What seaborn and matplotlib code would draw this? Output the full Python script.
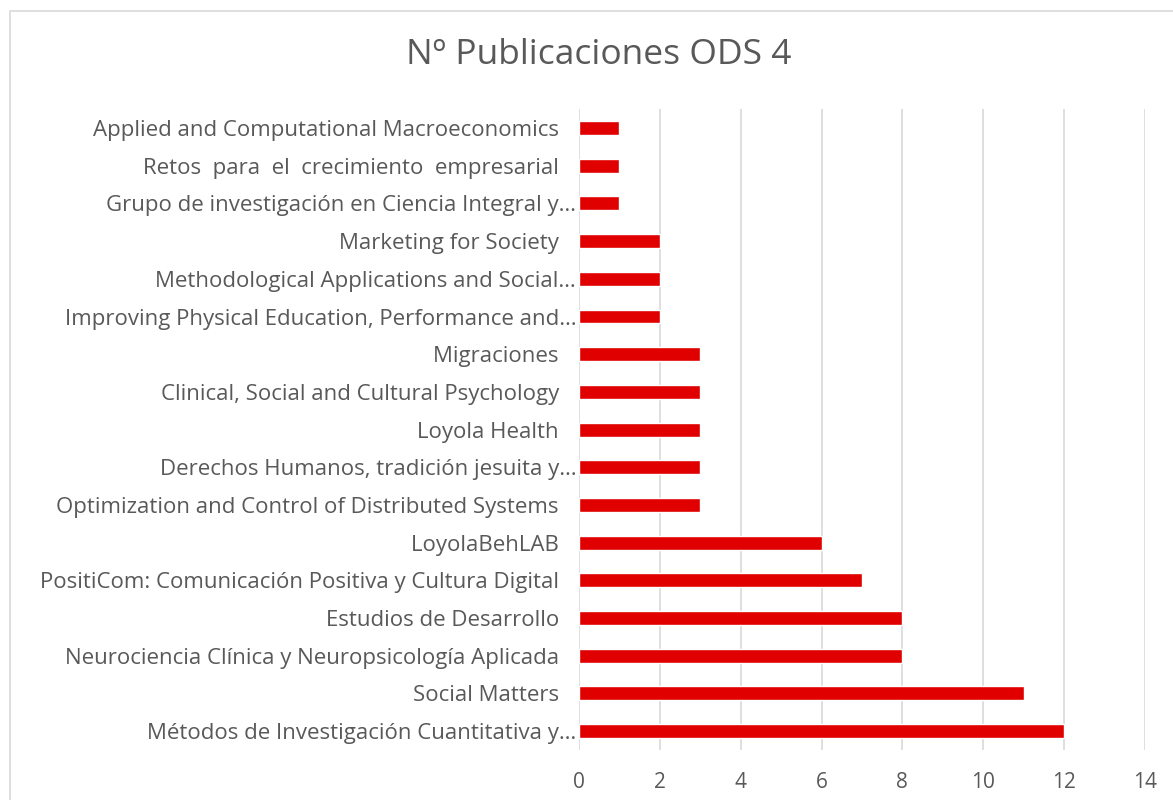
import seaborn as sns
import matplotlib.pyplot as plt
import matplotlib.patches as patches
import pandas as pd

grupos = [
    "Applied and Computational Macroeconomics",
    "Retos  para  el  crecimiento  empresarial",
    "Grupo de investigación en Ciencia Integral y…",
    "Marketing for Society",
    "Methodological Applications and Social…",
    "Improving Physical Education, Performance and…",
    "Migraciones",
    "Clinical, Social and Cultural Psychology",
    "Loyola Health",
    "Derechos Humanos, tradición jesuita y…",
    "Optimization and Control of Distributed Systems",
    "LoyolaBehLAB",
    "PositiCom: Comunicación Positiva y Cultura Digital",
    "Estudios de Desarrollo",
    "Neurociencia Clínica y Neuropsicología Aplicada",
    "Social Matters",
    "Métodos de Investigación Cuantitativa y…",
]
publicaciones = [1, 1, 1, 2, 2, 2, 3, 3, 3, 3, 3, 6, 7, 8, 8, 11, 12]
ticks_x = [0, 2, 4, 6, 8, 10, 12, 14]

# labels not cut off end a bit before the truncated ones (trailing space)
etiquetas = [g if g.endswith("…") else g + "   " for g in grupos]
df = pd.DataFrame({"grupo": etiquetas, "n": publicaciones})

sns.set_style("white")
plt.rcParams["font.family"] = ["Open Sans", "DejaVu Sans"]
gris = "#595959"

fig = plt.figure(figsize=(11.73, 8), dpi=100)
ax = fig.add_axes([0.4936, 0.0625, 0.4825, 0.801])

sns.barplot(data=df, x="n", y="grupo", color="#E00000", width=0.37,
            saturation=1, ax=ax, zorder=3)

ax.set_xlim(0, 14)
ax.set_ylim(16.5, -0.5)
ax.set_xticks(ticks_x)
ax.grid(axis="x", color="#D9D9D9", linewidth=1.2, zorder=0)
for s in ax.spines.values():
    s.set_visible(False)
ax.set_xlabel("")
ax.set_ylabel("")
ax.tick_params(axis="y", length=0, pad=2, labelsize=16, labelcolor=gris)
ax.tick_params(axis="x", length=0, pad=16, labelsize=15, labelcolor=gris)

fig.text(0.51, 0.931, "Nº Publicaciones ODS 4", ha="center", va="center",
         fontsize=25.5, color=gris)

borde = patches.Rectangle((10 / 1173, -0.1), 1.2, 1 - 11 / 800 + 0.1,
                          transform=fig.transFigure, fill=False,
                          edgecolor="#D9D9D9", linewidth=1.2)
fig.patches.append(borde)

plt.savefig("out.png", dpi=100)
